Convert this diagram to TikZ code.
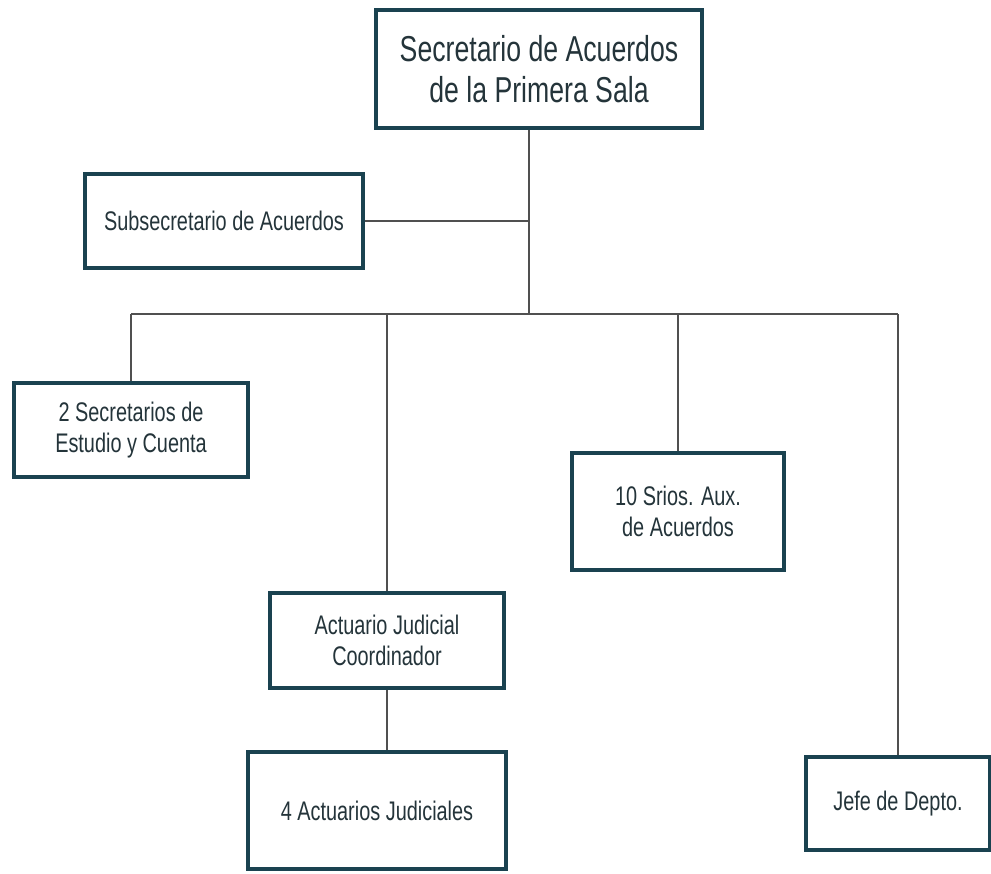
\documentclass[tikz,border=0pt]{standalone}
\usepackage{fontspec}
\setmainfont[FakeStretch=0.74]{Liberation Sans}
\usepackage{tikz}
\usetikzlibrary{positioning}
\definecolor{boxteal}{HTML}{1A4250}
\definecolor{inkgray}{HTML}{24343A}
\definecolor{linegray}{HTML}{505050}

\begin{document}
\begin{tikzpicture}[x=0.02cm,y=-0.02cm,
	cargo/.style={draw=boxteal,line width=2.2pt,fill=white,inner sep=0pt,align=center,text=inkgray,font=\fontsize{15.3}{17.5}\selectfont},
	jefatura/.style={cargo,font=\fontsize{20.5}{23.5}\selectfont},
	liga/.style={draw=linegray,line width=0.8pt}]
		\useasboundingbox (0,0) rectangle (991,873);
		% titular
		\node[jefatura,minimum width=6.52cm,minimum height=2.36cm] (secac) at (539,69) {Secretario de Acuerdos\\de la Primera Sala};
		\coordinate (bus) at (529,314);
		\node[cargo,minimum width=5.56cm,minimum height=1.88cm] (subsec) at (224,221) {Subsecretario de Acuerdos};
		% segundo nivel
		\node[cargo,minimum width=4.68cm,minimum height=1.88cm] (estudio) at (131,430) {2 Secretarios de\\Estudio y Cuenta};
		\node[cargo,minimum width=4.68cm,minimum height=1.9cm] (coord) at (387,640.5) {Actuario Judicial\\Coordinador};
		\node[cargo,minimum width=5.16cm,minimum height=2.34cm] (actuarios) at (377,810.5) {4 Actuarios Judiciales};
		\node[cargo,minimum width=4.24cm,minimum height=2.34cm] (srios) at (678,511.5) {10 Srios. Aux.\\de Acuerdos};
		\node[cargo,minimum width=3.68cm,minimum height=1.86cm] (jefe) at (898,803.5) {Jefe de Depto.};
		
		\draw[liga] (secac.south -| bus) -- (bus);
		\draw[liga] (subsec.east) -- (subsec.east -| bus);
		\draw[liga] (estudio.north |- bus) -- (jefe.north |- bus);
		\draw[liga] (estudio.north |- bus) -- (estudio.north);
		\draw[liga] (coord.north |- bus) -- (coord.north);
		\draw[liga] (coord.south) -- (actuarios.north -| coord.south);
		\draw[liga] (srios.north |- bus) -- (srios.north);
		\draw[liga] (jefe.north |- bus) -- (jefe.north);
		
		\end{tikzpicture}
\end{document}
